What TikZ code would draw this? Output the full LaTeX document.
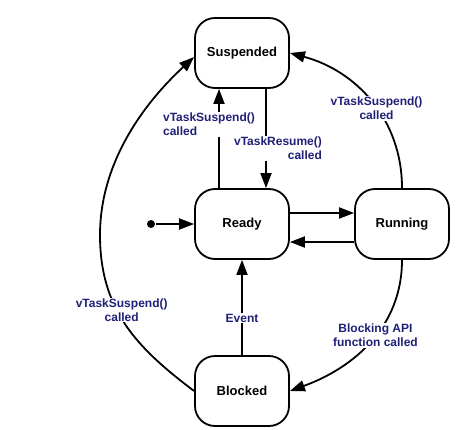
\documentclass[tikz,border=0pt]{standalone}
\usepackage{fontspec}
\setmainfont{Liberation Sans}
\usetikzlibrary{arrows.meta,positioning}
\definecolor{navy}{RGB}{32,32,120}
\tikzstyle{every picture}=[x=1pt, y=1pt, line width=1.8pt,%
	>={Triangle[length=15pt,width=11pt]}]
\tikzstyle{state}=[draw, rounded corners=20pt, minimum width=94pt, minimum height=70pt,%
	font=\fontsize{13}{15}\selectfont\bfseries]
\tikzstyle{lbl}=[fill=white, text=navy, inner sep=1pt,%
	font=\fontsize{12}{14}\selectfont\bfseries]

\begin{document}
\begin{tikzpicture}
	\useasboundingbox (0,0) rectangle (462,429);
	\node[state] (ready) at (242,205) {Ready};
	\node[state] (running) [right of=ready, node distance=160pt] {Running};
	\node[state] (susp) [above of=ready, node distance=171pt] {Suspended};
	\node[state] (blocked) [below of=ready, node distance=167pt] {Blocked};
	\node[circle, fill, inner sep=0pt, minimum size=8pt] (init) [left of=ready, node distance=91pt] {};
	\draw[->] (init) -- (ready);
	\draw[->] ([yshift=11pt]ready.east) -- ([yshift=11pt]running.west);
	\draw[->] ([yshift=-18pt]running.west) -- ([yshift=-18pt]ready.east);
	% between Ready and Suspended
	\draw[->] ([xshift=-23pt]ready.north) -- node[lbl, pos=0.64, xshift=-10pt, align=left]
		{vTaskSuspend()\\called} ([xshift=-23pt]susp.south);
	\draw[->] ([xshift=24pt]susp.south) -- node[lbl, pos=0.6, xshift=12pt, align=right]
		{vTaskResume()\\called} ([xshift=24pt]ready.north);
	\draw[->] (running.north) to[out=90, in=-15] node[lbl, pos=0.45, align=center]
		{vTaskSuspend()\\called} (susp.east);
	\draw[->] (running.south) to[out=-90, in=20] node[lbl, pos=0.45, align=center]
		{Blocking API\\function called} (blocked.east);
	\draw[->] (blocked.north) -- node[lbl, pos=0.39] {Event} (ready.south);
	% big arc on the left
	\coordinate (west) at (100,194);
	\draw[->] (blocked.west) .. controls (137,81) and (100,119) .. node[lbl, pos=0.6, xshift=5pt, align=center]
		{vTaskSuspend()\\called} (west) .. controls (100,264) and (141,323) .. ([yshift=-4pt]susp.west);
\end{tikzpicture}
\end{document}
